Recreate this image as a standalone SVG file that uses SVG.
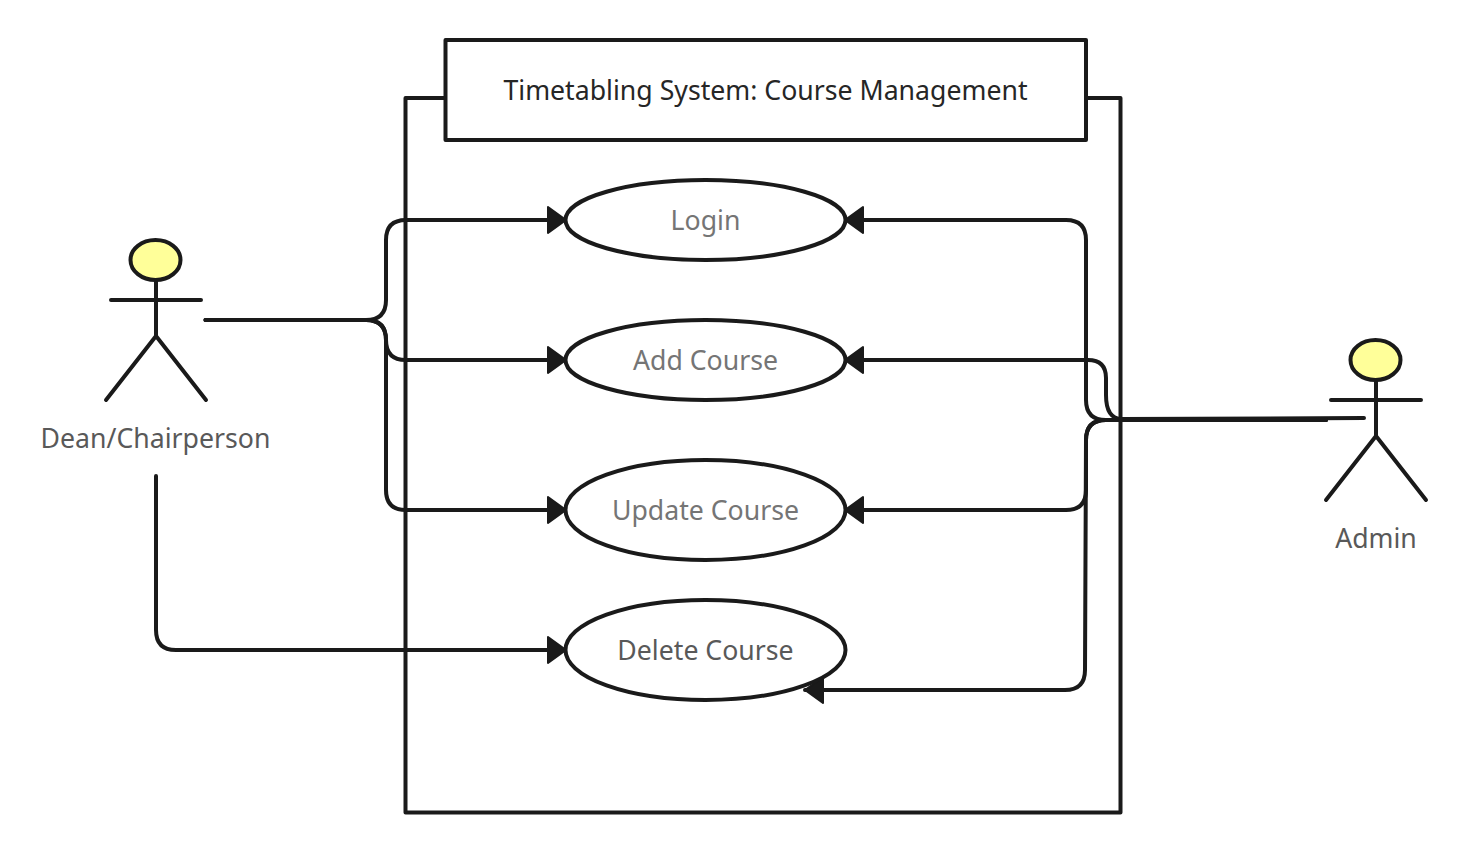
<svg xmlns="http://www.w3.org/2000/svg" width="1466" height="853" viewBox="0 0 1466 853">
<defs>
<marker id="arrow" markerUnits="userSpaceOnUse" markerWidth="24" markerHeight="30" refX="19" refY="14" orient="auto">
<path d="M1 1 L19 14 L1 27 Z" fill="#1a1a1a" stroke="#1a1a1a" stroke-width="2" stroke-linejoin="round"/>
</marker>
</defs>
<style>
text{font-family:"Noto Sans","Open Sans",sans-serif;font-size:26.670px;text-anchor:middle}
.s{fill:none;stroke:#1a1a1a;stroke-width:4;stroke-linecap:round;stroke-linejoin:round}
.b{fill:#fff;stroke:#1a1a1a;stroke-width:4;stroke-linejoin:round}
.c{fill:none;stroke:#1a1a1a;stroke-width:4;stroke-linecap:round;stroke-linejoin:round}
.u{fill:#fff;stroke:#1a1a1a;stroke-width:4}
.h{fill:#ffff99;stroke:#1a1a1a;stroke-width:4}
.t{fill:#262626}
.g{fill:#757575}
.d{fill:#595959}
</style>
<rect width="1466" height="853" fill="#fff"/>
<g id="system">
<rect x="405.500" y="98" width="715" height="714.500" class="b"/>
<rect x="445.500" y="40" width="640.500" height="100" class="b"/>
<text x="765.500" y="100" class="t">Timetabling System: Course Management</text>
</g>
<g id="connectors">
<path class="c" marker-end="url(#arrow)" d="M205.500 320H366Q386 320 386 300V240Q386 220 406 220H566"/>
<path class="c" marker-end="url(#arrow)" d="M205.500 320H366Q386 320 386 340Q386 360 406 360H566"/>
<path class="c" marker-end="url(#arrow)" d="M205.500 320H366Q386 320 386 340V490Q386 510 406 510H566"/>
<path class="c" marker-end="url(#arrow)" d="M156 476V630Q156 650 176 650H566"/>
<path class="c" marker-end="url(#arrow)" d="M1326 420H1106Q1086 420 1086 400V240Q1086 220 1066 220H845"/>
<path class="c" marker-end="url(#arrow)" d="M1364 418L1122 419Q1106 419 1106 395V378Q1106 360 1088 360H845"/>
<path class="c" marker-end="url(#arrow)" d="M1326 420H1106Q1086 420 1086 440V490Q1086 510 1066 510H845"/>
<path class="c" marker-end="url(#arrow)" d="M1326 420H1106Q1086 420 1086 440L1085 670Q1085 690 1065 690H805"/>
</g>
<g id="login"><ellipse cx="705.500" cy="220" rx="140" ry="40" class="u"/><text x="705.500" y="230" class="g">Login</text></g>
<g id="add-course"><ellipse cx="705.500" cy="360" rx="140" ry="40" class="u"/><text x="705.500" y="370" class="g">Add Course</text></g>
<g id="update-course"><ellipse cx="705.500" cy="510" rx="140" ry="50" class="u"/><text x="705.500" y="520" class="g">Update Course</text></g>
<g id="delete-course"><ellipse cx="705.500" cy="650" rx="140" ry="50" class="u"/><text x="705.500" y="660" class="d">Delete Course</text></g>
<g id="dean">
<path class="s" d="M156 280V336M111 300H201M156 336L106 400M156 336L206 400"/>
<ellipse cx="155.500" cy="260" rx="25" ry="20" class="h"/>
<text x="155.500" y="448" class="d">Dean/Chairperson</text>
</g>
<g id="admin">
<path class="s" d="M1376 380V436M1331 400H1421M1376 436L1326 500M1376 436L1426 500"/>
<ellipse cx="1375.500" cy="360" rx="25" ry="20" class="h"/>
<text x="1376" y="548" class="d">Admin</text>
</g>
</svg>
